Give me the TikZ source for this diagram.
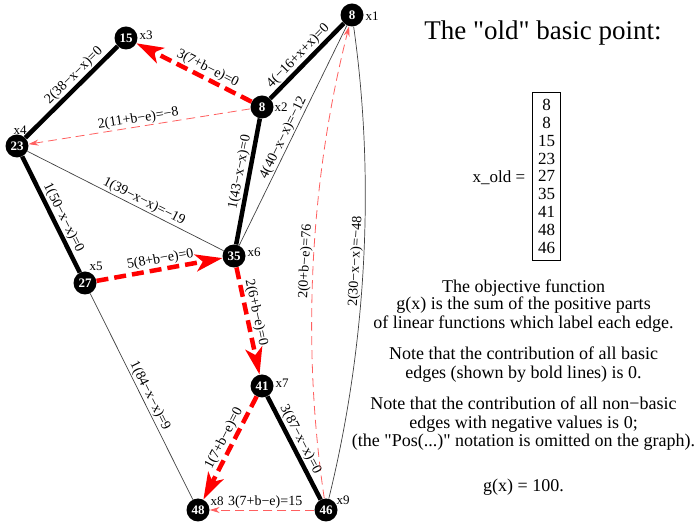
\documentclass[tikz,border=0pt]{standalone}
\usepackage{fontspec}
\setmainfont{Liberation Serif}[Ligatures=TeXOff]
\usetikzlibrary{arrows.meta}
\definecolor{lightred}{RGB}{255,95,95}
\tikzset{
  vtx/.style={circle, fill=black, minimum size=23pt, inner sep=0pt, text=white, font=\fontsize{13}{13}\selectfont\bfseries},
  vlab/.style={font=\fontsize{13}{13}\selectfont, inner sep=0pt},
  elab/.style={font=\fontsize{14}{14}\selectfont, text=black, sloped, above, inner sep=1pt},
  basic/.style={line width=4.5pt},
  thinline/.style={line width=0.7pt, black!75},
  bigred/.style={red, line width=4.5pt, dash pattern=on 12pt off 6pt, -{Stealth[length=27pt,width=17pt,inset=7pt]}},
  thinred/.style={lightred, line width=0.8pt, dash pattern=on 9pt off 5pt, -{Stealth[length=10pt,width=6pt]}},
  txt/.style={font=\fontsize{18}{18}\selectfont, anchor=base, inner sep=0pt}
}
\begin{document}
\begin{tikzpicture}[x=1pt,y=1pt]
\useasboundingbox (0,0) rectangle (697,525);
% vertices
\node[vtx] (x1) at (352,510) {8};
\node[vtx] (x2) at (262,418) {8};
\node[vtx] (x3) at (126,487) {15};
\node[vtx] (x4) at (17,379) {23};
\node[vtx] (x5) at (85,242) {27};
\node[vtx] (x6) at (234,269) {35};
\node[vtx] (x7) at (262,139) {41};
\node[vtx] (x8) at (198,15) {48};
\node[vtx] (x9) at (326,15) {46};
% vertex names
\node[vlab] (l1) at (372,509) {x1};
\node[vlab] (l2) at (281,418) {x2};
\node[vlab] (l3) at (146,490) {x3};
\node[vlab] (l4) at (20,395) {x4};
\node[vlab] (l5) at (96,259) {x5};
\node[vlab] (l6) at (254,273) {x6};
\node[vlab] (l7) at (282,142) {x7};
\node[vlab] (l8) at (217,24) {x8};
\node[vlab] (l9) at (343,25) {x9};
% thin non-basic edges
\draw[thinline] (x6) -- node[elab,pos=0.475]{4(40−x−x)=−12} (x1);
\draw[thinline] (x4) -- node[elab,pos=0.577]{1(39−x−x)=−19} (x6);
\draw[thinline] (x5) -- node[elab,pos=0.514]{1(84−x−x)=9} (x8);
\draw[thinline] (x9) .. controls (366.7,180.7) and (375.3,345.7) .. node[elab,pos=0.5]{2(30−x−x)=−48} (x1);
% thin red dashed
\draw[thinred] (x2) -- node[elab,pos=0.5]{2(11+b−e)=−8} (x4);
\draw[thinred] (x9) -- node[elab,pos=0.47]{3(7+b−e)=15} (x8);
\draw[thinred] (x9) .. controls (301.3,180.7) and (310,345.7) .. node[elab,pos=0.5]{2(0+b−e)=76} (x1);
% basic edges
\draw[basic] (x4) -- node[elab,pos=0.6]{2(38−x−x)=0} (x3);
\draw[basic] (x2) -- node[elab,pos=0.475]{4(−16+x+x)=0} (x1);
\draw[basic] (x6) -- node[elab,pos=0.56]{1(43−x−x)=0} (x2);
\draw[basic] (x4) -- node[elab,pos=0.565]{1(50−x−x)=0} (x5);
\draw[basic] (x7) -- node[elab,pos=0.46]{3(87−x−x)=0} (x9);
% thick red arrows
\draw[bigred] (x2) -- node[elab,pos=0.42]{3(7+b−e)=0} (x3);
\draw[bigred] (x5) -- node[elab,pos=0.52]{5(8+b−e)=0} (x6);
\draw[bigred] (x6) -- node[elab,pos=0.44]{2(6+b−e)=0} (x7);
\draw[bigred] (x7) -- node[elab,pos=0.45]{1(7+b−e)=0} (x8);
% right side text
\node[font=\fontsize{27}{27}\selectfont, anchor=base, inner sep=0pt] (title) at (543,485) {The "old" basic point:};
\node[font=\fontsize{17}{17}\selectfont, anchor=base, inner sep=0pt] (xold) at (499,342) {x\_old =};
\node[draw, line width=0.7pt, minimum width=27.6pt, minimum height=167.3pt, inner sep=0pt, align=center,
      font=\fontsize{17}{17.9}\selectfont] (box) at (546.5,348.6) {8\\8\\15\\23\\27\\35\\41\\48\\46};
\node[txt] (p1) at (523.5,232.3) {The objective function};
\node[txt] (p2) at (523.5,215) {g(x) is the sum of the positive parts};
\node[txt] (p3) at (523.5,196.7) {of linear functions which label each edge.};
\node[txt] (p4) at (523.5,165) {Note that the contribution of all basic};
\node[txt] (p5) at (523.5,146.7) {edges (shown by bold lines) is 0.};
\node[txt] (p6) at (523.5,115) {Note that the contribution of all non−basic};
\node[txt] (p7) at (523.5,96.7) {edges with negative values is 0;};
\node[txt] (p8) at (523.5,78.3) {(the "Pos(...)" notation is omitted on the graph).};
\node[txt] (p9) at (523.5,33.3) {g(x) = 100.};
\end{tikzpicture}
\end{document}
